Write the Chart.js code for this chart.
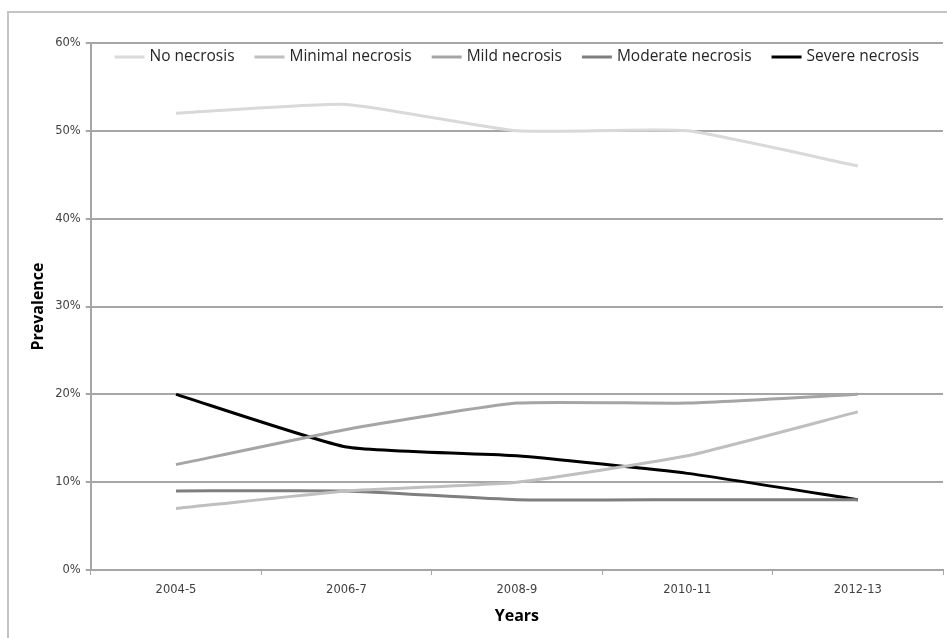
<!DOCTYPE html>
<html>
<head>
<meta charset="utf-8">
<script src="https://cdn.jsdelivr.net/npm/chart.js@4"></script>
<style>
  html, body { margin: 0; padding: 0; background: #fff; overflow: hidden; }
  #wrap { position: relative; width: 947px; height: 638px; }
  #frame { position: absolute; left: 7px; top: 11px; width: 1000px; height: 700px; border: 2px solid #c4c4c4; }
  #chart { position: absolute; left: 0; top: 0; }
</style>
</head>
<body>
<div id="wrap">
  <div id="frame"></div>
  <canvas id="chart" width="947" height="638"></canvas>
</div>
<script>
// Survey periods and prevalence (%) per necrosis grade
const years = ["2004-5", "2006-7", "2008-9", "2010-11", "2012-13"];
const noNecrosis = [52, 53, 50, 50, 46];
const minimalNecrosis = [7, 9, 10, 13, 18];
const mildNecrosis = [12, 16, 19, 19, 20];
const moderateNecrosis = [9, 9, 8, 8, 8];
const severeNecrosis = [20, 14, 13, 11, 8];
const yTicks = [0, 10, 20, 30, 40, 50, 60];

const tickFont = { family: "'DejaVu Sans', sans-serif", size: 11.5 };
const titleFont = { family: "'Open Sans', sans-serif", size: 16, weight: "bold" };
const legendFont = "15.5px 'Open Sans', sans-serif";

function series(label, data, color, width) {
  return {
    label: label,
    data: data,
    borderColor: color,
    backgroundColor: color,
    borderWidth: width,
    pointRadius: 0,
    tension: 0.15
  };
}

// Draws a single-row legend inside the top of the plot area (like the Excel original)
const innerLegend = {
  id: "innerLegend",
  afterDraw(chart) {
    const ctx = chart.ctx;
    const area = chart.chartArea;
    const sets = chart.data.datasets;
    const lineLen = 30, gap = 5, spacing = 20;

    ctx.save();
    ctx.font = legendFont;
    const widths = sets.map(ds => lineLen + gap + ctx.measureText(ds.label).width);
    const total = widths.reduce((a, b) => a + b, 0) + spacing * (sets.length - 1);
    let x = (area.left + area.right) / 2 - total / 2;
    const y = area.top + 14;

    sets.forEach((ds, i) => {
      ctx.strokeStyle = ds.borderColor;
      ctx.lineWidth = ds.borderWidth;
      ctx.beginPath();
      ctx.moveTo(x, y);
      ctx.lineTo(x + lineLen, y);
      ctx.stroke();

      ctx.fillStyle = "#262626";
      ctx.textBaseline = "middle";
      ctx.fillText(ds.label, x + lineLen + gap, y);
      x += widths[i] + spacing;
    });
    ctx.restore();
  }
};

new Chart(document.getElementById("chart"), {
  type: "line",
  data: {
    labels: years,
    datasets: [
      series("No necrosis", noNecrosis, "#d9d9d9", 3),
      series("Minimal necrosis", minimalNecrosis, "#bfbfbf", 3),
      series("Mild necrosis", mildNecrosis, "#a5a5a5", 3),
      series("Moderate necrosis", moderateNecrosis, "#7f7f7f", 3),
      series("Severe necrosis", severeNecrosis, "#000000", 3)
    ]
  },
  options: {
    responsive: false,
    animation: false,
    layout: { padding: { left: 25, right: 4, top: 43, bottom: 8 } },
    plugins: {
      legend: { display: false },
      tooltip: { enabled: false }
    },
    scales: {
      x: {
        offset: true,
        grid: {
          offset: true,
          drawOnChartArea: false,
          tickLength: 5,
          color: "#a6a6a6"
        },
        border: { color: "#a6a6a6", width: 2 },
        ticks: { color: "#404040", font: tickFont, padding: 8 },
        title: {
          display: true,
          text: "Years",
          color: "#000",
          font: titleFont,
          padding: { top: 2 }
        }
      },
      y: {
        min: 0,
        max: 60,
        afterBuildTicks: axis => {
          axis.ticks = yTicks.map(v => ({ value: v }));
        },
        grid: { color: "#a6a6a6", lineWidth: 2, tickLength: 5 },
        border: { color: "#a6a6a6", width: 2 },
        ticks: {
          color: "#404040",
          font: tickFont,
          padding: 5,
          callback: v => v + "%"
        },
        title: {
          display: true,
          text: "Prevalence",
          color: "#000",
          font: titleFont,
          padding: { bottom: 2 }
        }
      }
    }
  },
  plugins: [innerLegend]
});
</script>
</body>
</html>
